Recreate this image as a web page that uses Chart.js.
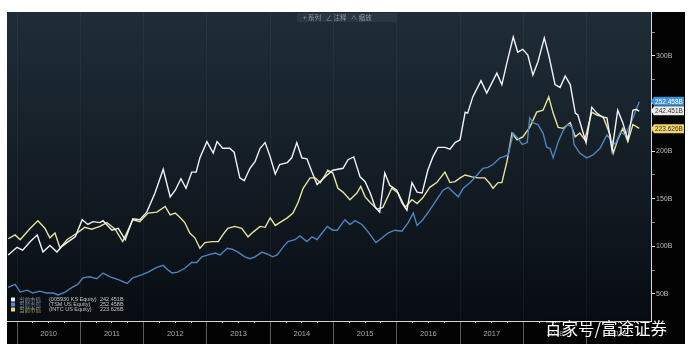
<!DOCTYPE html>
<html>
<head>
<meta charset="utf-8">
<script src="https://cdn.jsdelivr.net/npm/chart.js@4.4.0/dist/chart.umd.min.js"></script>
<style>
  html, body { margin: 0; padding: 0; background: #fff; }
  canvas { display: block; }
</style>
</head>
<body>
<canvas id="chart" width="698" height="352"></canvas>
<script>
// year boundaries shown on the bottom axis
const years = [2010, 2011, 2012, 2013, 2014, 2015, 2016, 2017, 2018, 2019];
const yTicks = [50, 75, 100, 125, 150, 175, 200, 225, 250, 275, 300, 325];

// market cap, USD bn
const samsungTime = [2009.86, 2010.00, 2010.09, 2010.21, 2010.32, 2010.41, 2010.52, 2010.63, 2010.71, 2010.81, 2010.92,
  2011.03, 2011.12, 2011.20, 2011.31, 2011.36, 2011.50, 2011.60, 2011.71, 2011.83, 2011.94,
  2012.05, 2012.18, 2012.31, 2012.42, 2012.50, 2012.59, 2012.67, 2012.76, 2012.83, 2012.89,
  2013.00, 2013.10, 2013.16, 2013.25, 2013.36, 2013.43, 2013.52, 2013.59, 2013.68, 2013.76, 2013.84, 2013.92,
  2014.00, 2014.08, 2014.15, 2014.27, 2014.34, 2014.42, 2014.50, 2014.58, 2014.66, 2014.74, 2014.82, 2014.90, 2014.99,
  2015.15, 2015.23, 2015.32, 2015.42, 2015.50, 2015.58, 2015.66, 2015.73, 2015.81, 2015.89,
  2016.00, 2016.08, 2016.16, 2016.24, 2016.32, 2016.40, 2016.49, 2016.57, 2016.65, 2016.76, 2016.84, 2016.92,
  2017.00, 2017.08, 2017.12, 2017.20, 2017.33, 2017.42, 2017.58, 2017.66, 2017.74, 2017.84, 2017.91, 2017.99,
  2018.07, 2018.15, 2018.23, 2018.33, 2018.40, 2018.50, 2018.58, 2018.66, 2018.74, 2018.82, 2018.86, 2018.99,
  2019.08, 2019.16, 2019.24, 2019.32, 2019.40, 2019.49, 2019.57, 2019.65, 2019.73, 2019.78, 2019.83];
const samsungCap = [91, 99, 96, 105, 112, 94, 101, 94, 100, 105, 110,
  128, 123, 126, 125, 127, 117, 119, 107, 129, 128,
  136, 156, 181, 152, 159, 171, 161, 178, 178, 193,
  210, 198, 210, 203, 203, 199, 172, 169, 182, 189, 203, 209,
  194, 176, 186, 188, 193, 209, 193, 192, 178, 165, 170, 175, 180,
  182, 191, 194, 173, 168, 156, 141, 136, 177, 164,
  159, 146, 138, 167, 157, 156, 180, 194, 204, 204, 202, 209,
  212, 241, 240, 257, 274, 261, 282, 270, 293, 320, 304, 307,
  301, 280, 294, 319, 301, 270, 267, 279, 270, 240, 238, 209,
  246, 240, 236, 235, 201, 243, 230, 212, 243, 244, 242];

const tsmTime = [2009.86, 2009.97, 2010.05, 2010.16, 2010.25, 2010.36, 2010.47, 2010.57, 2010.65, 2010.76, 2010.87, 2010.96,
  2011.04, 2011.15, 2011.26, 2011.36, 2011.47, 2011.60, 2011.74, 2011.83, 2011.97,
  2012.07, 2012.21, 2012.31, 2012.39, 2012.45, 2012.54, 2012.65, 2012.76, 2012.84, 2012.92,
  2013.02, 2013.13, 2013.21, 2013.32, 2013.40, 2013.49, 2013.60, 2013.68, 2013.76, 2013.87, 2013.95,
  2014.04, 2014.11, 2014.20, 2014.28, 2014.39, 2014.47, 2014.58, 2014.66, 2014.74, 2014.82, 2014.90, 2014.99,
  2015.06, 2015.18, 2015.26, 2015.34, 2015.45, 2015.55, 2015.67, 2015.77, 2015.86, 2015.97,
  2016.08, 2016.18, 2016.26, 2016.32, 2016.41, 2016.52, 2016.63, 2016.73, 2016.81, 2016.89, 2016.97,
  2017.05, 2017.16, 2017.27, 2017.36, 2017.44, 2017.52, 2017.63, 2017.68, 2017.76, 2017.84, 2017.91, 2017.98,
  2018.06, 2018.10, 2018.15, 2018.23, 2018.31, 2018.37, 2018.42, 2018.47, 2018.55, 2018.63, 2018.70, 2018.77, 2018.80, 2018.89,
  2019.00, 2019.10, 2019.21, 2019.32, 2019.45, 2019.53, 2019.61, 2019.72, 2019.83];
const tsmCap = [57, 60, 52, 54, 51, 53, 51, 51, 49, 52, 57, 60,
  67, 68, 66, 72, 68, 65, 61, 67, 70,
  73, 78, 80, 75, 72, 73, 77, 83, 83, 89,
  91, 93, 91, 98, 97, 94, 89, 87, 89, 94, 92,
  89, 91, 99, 105, 107, 111, 105, 110, 107, 114, 121, 117,
  117, 128, 123, 127, 123, 115, 104, 109, 114, 117,
  116, 125, 135, 122, 128, 138, 149, 159, 162, 157, 152,
  161, 167, 175, 182, 183, 186, 193, 194, 196, 219, 214, 207,
  209, 235, 230, 228, 219, 204, 203, 193, 210, 222, 228, 225, 207, 198,
  193, 196, 203, 217, 207, 220, 217, 233, 252];

const intelTime = [2009.86, 2009.97, 2010.05, 2010.21, 2010.33, 2010.44, 2010.52, 2010.60, 2010.68, 2010.79, 2010.95,
  2011.07, 2011.18, 2011.31, 2011.42, 2011.55, 2011.67, 2011.83, 2011.94,
  2012.07, 2012.21, 2012.34, 2012.42, 2012.50, 2012.58, 2012.65, 2012.73, 2012.81, 2012.89, 2012.97,
  2013.08, 2013.18, 2013.25, 2013.33, 2013.44, 2013.55, 2013.65, 2013.73, 2013.84, 2013.92,
  2014.00, 2014.08, 2014.15, 2014.27, 2014.36, 2014.44, 2014.52, 2014.63, 2014.71, 2014.79, 2014.87, 2014.91, 2014.99,
  2015.07, 2015.15, 2015.26, 2015.37, 2015.43, 2015.50, 2015.58, 2015.69, 2015.78, 2015.92,
  2016.02, 2016.13, 2016.24, 2016.32, 2016.41, 2016.52, 2016.63, 2016.76, 2016.84, 2016.92,
  2017.00, 2017.08, 2017.19, 2017.28, 2017.39, 2017.47, 2017.52, 2017.60, 2017.66, 2017.74, 2017.82, 2017.90, 2017.99,
  2018.10, 2018.21, 2018.31, 2018.40, 2018.47, 2018.55, 2018.63, 2018.74, 2018.82, 2018.89, 2018.97,
  2019.08, 2019.16, 2019.26, 2019.37, 2019.42, 2019.49, 2019.57, 2019.65, 2019.73, 2019.83];
const intelCap = [108, 112, 107, 119, 127, 119, 109, 114, 98, 107, 114,
  120, 118, 121, 125, 118, 105, 128, 126,
  135, 136, 142, 133, 135, 130, 125, 114, 109, 98, 104,
  105, 105, 112, 119, 121, 119, 110, 115, 121, 120,
  130, 122, 125, 130, 135, 146, 161, 172, 172, 167, 175, 180, 177,
  161, 157, 149, 156, 163, 152, 146, 139, 141, 161,
  156, 141, 149, 145, 151, 162, 167, 178, 167, 168,
  172, 175, 173, 172, 172, 166, 161, 167, 167, 189, 219, 212, 215,
  225, 241, 243, 257, 240, 225, 224, 230, 215, 219, 212,
  241, 238, 236, 217, 198, 212, 224, 210, 228, 224];

// legend / last value tags
const seriesTags = ['(005930 KS Equity)', '(TSM US Equity)', '(INTC US Equity)'];
const lastValues = [242.451, 252.458, 223.626];

const toPoints = (t, v) => t.map((x, i) => ({ x, y: v[i] }));

const lineColors = ['#f1f2f6', '#4f84bd', '#e6e2a0'];

const backdrop = {
  id: 'backdrop',
  beforeDraw(chart) {
    const { ctx, chartArea: a, scales } = chart;
    const right = scales.y.right;
    const bottom = scales.x.bottom;
    ctx.save();
    ctx.fillStyle = '#ffffff';
    ctx.fillRect(0, 0, chart.width, chart.height);
    const g = ctx.createLinearGradient(0, a.top, 0, a.bottom);
    g.addColorStop(0, '#1f2d37');
    g.addColorStop(0.5, '#141d26');
    g.addColorStop(1, '#080c12');
    ctx.fillStyle = g;
    ctx.fillRect(a.left, a.top, a.right - a.left, a.bottom - a.top);
    ctx.fillStyle = '#030303';
    ctx.fillRect(a.right, a.top, right - a.right, bottom - a.top);
    ctx.fillRect(a.left, a.bottom, right - a.left, bottom - a.bottom);
    ctx.restore();
  }
};

const overlay = {
  id: 'overlay',
  afterDraw(chart) {
    const { ctx, chartArea: a, scales } = chart;
    ctx.save();

    // toolbar
    ctx.fillStyle = '#2b3740';
    ctx.fillRect(297, a.top + 1, 100, 9);
    ctx.fillStyle = '#8c959c';
    ctx.font = '6.5px "Noto Sans CJK SC"';
    ctx.textBaseline = 'middle';
    ctx.fillText('+ 系列   ∠ 注释   ∧ 缩放', 303, a.top + 5.5);

    // legend
    const sq = ['#eeeeee', '#4f8cd0', '#f0d27a'];
    const cn = ['#8e8e8e', '#5a7ea8', '#a8995a'];
    seriesTags.forEach((tag, i) => {
      const yc = 299.5 + i * 5;
      ctx.fillStyle = sq[i];
      ctx.fillRect(11, yc - 2, 4, 4);
      ctx.fillStyle = cn[i];
      ctx.font = '5.5px "Noto Sans CJK SC"';
      ctx.fillText('当前市值', 19, yc);
      ctx.fillStyle = '#c6c6c6';
      ctx.font = '5.5px "Liberation Sans"';
      ctx.fillText(tag, 49, yc);
      ctx.fillText(lastValues[i].toFixed(3) + 'B', 100, yc);
    });

    // last value tags on the right axis
    const tags = [
      { v: lastValues[1], fill: '#3f92dc', color: '#ffffff' },
      { v: lastValues[0], fill: '#ececec', color: '#333333' },
      { v: lastValues[2], fill: '#f1d36c', color: '#333333' }
    ];
    ctx.font = '6.5px "Liberation Sans"';
    ctx.textAlign = 'center';
    tags.forEach(t => {
      const y = scales.y.getPixelForValue(t.v);
      const x0 = a.right + 3;
      ctx.fillStyle = t.fill;
      ctx.beginPath();
      ctx.moveTo(a.right, y);
      ctx.lineTo(x0, y - 4.5);
      ctx.lineTo(x0 + 30, y - 4.5);
      ctx.lineTo(x0 + 30, y + 4.5);
      ctx.lineTo(x0, y + 4.5);
      ctx.closePath();
      ctx.fill();
      ctx.fillStyle = t.color;
      ctx.fillText(t.v.toFixed(3) + 'B', x0 + 15, y + 0.5);
    });

    // watermark
    ctx.textAlign = 'left';
    ctx.textBaseline = 'alphabetic';
    ctx.font = '16.5px "Noto Sans CJK SC"';
    ctx.shadowColor = 'rgba(0,0,0,0.6)';
    ctx.shadowBlur = 2;
    ctx.fillStyle = '#ffffff';
    ctx.fillText('百家号/富途证券', 545, 335);
    ctx.restore();
  }
};

const xMin = 2010 - 10 / 63.3;
const xMax = xMin + 644 / 63.3;

new Chart(document.getElementById('chart'), {
  type: 'line',
  data: {
    datasets: [
      { label: 'Samsung', data: toPoints(samsungTime, samsungCap), borderColor: lineColors[0] },
      { label: 'TSM', data: toPoints(tsmTime, tsmCap), borderColor: lineColors[1] },
      { label: 'INTC', data: toPoints(intelTime, intelCap), borderColor: lineColors[2] }
    ]
  },
  options: {
    responsive: false,
    animation: false,
    devicePixelRatio: 1,
    layout: { padding: { left: 7, top: 12, right: 13, bottom: 8 } },
    elements: {
      line: { borderWidth: 1.4, tension: 0 },
      point: { radius: 0 }
    },
    plugins: { legend: { display: false }, tooltip: { enabled: false } },
    scales: {
      x: {
        type: 'linear',
        position: 'bottom',
        weight: 1,
        min: xMin,
        max: xMax,
        afterFit: s => { s.height = 23; },
        afterBuildTicks: s => {
          const t = [];
          years.forEach(y => { t.push({ value: y }); t.push({ value: y + 0.5 }); });
          s.ticks = t;
        },
        border: { display: false },
        grid: {
          color: c => (c.tick && c.tick.value % 1 === 0) ? 'rgba(255,255,255,0.045)' : 'rgba(0,0,0,0)',
          tickColor: c => (c.tick && c.tick.value % 1 === 0) ? '#5c5c5c' : 'rgba(0,0,0,0)',
          tickLength: 23
        },
        ticks: {
          autoSkip: false,
          maxRotation: 0,
          padding: -15,
          color: '#a9a9a9',
          font: { family: 'Liberation Sans', size: 7.5 },
          callback: v => (v % 1 !== 0) ? String(Math.floor(v)) : ''
        }
      },
      xm: {
        type: 'linear',
        position: 'bottom',
        weight: 0,
        min: xMin,
        max: xMax,
        afterFit: s => { s.height = 0; },
        afterBuildTicks: s => {
          const t = [];
          years.forEach(y => [0.25, 0.5, 0.75].forEach(q => t.push({ value: y + q })));
          s.ticks = t;
        },
        border: { display: true, color: '#d6d6d6', width: 1 },
        grid: { drawOnChartArea: false, tickLength: 2, tickColor: '#d0d0d0' },
        ticks: { display: false }
      },
      y: {
        type: 'linear',
        position: 'right',
        min: 21.6,
        max: 346.2,
        afterFit: s => { s.width = 34; },
        afterBuildTicks: s => { s.ticks = yTicks.map(v => ({ value: v })); },
        border: { display: true, color: '#d8d8d8', width: 1 },
        grid: {
          drawOnChartArea: false,
          tickLength: 4,
          tickColor: c => (c.tick && c.tick.value % 50 === 0) ? '#e0e0e0' : '#8a8a8a'
        },
        ticks: {
          padding: 1,
          color: '#bdbdbd',
          font: { family: 'Liberation Sans', size: 7 },
          callback: v => (v % 50 === 0 && v !== 250) ? v + 'B' : ''
        }
      }
    }
  },
  plugins: [backdrop, overlay]
});
</script>
</body>
</html>
